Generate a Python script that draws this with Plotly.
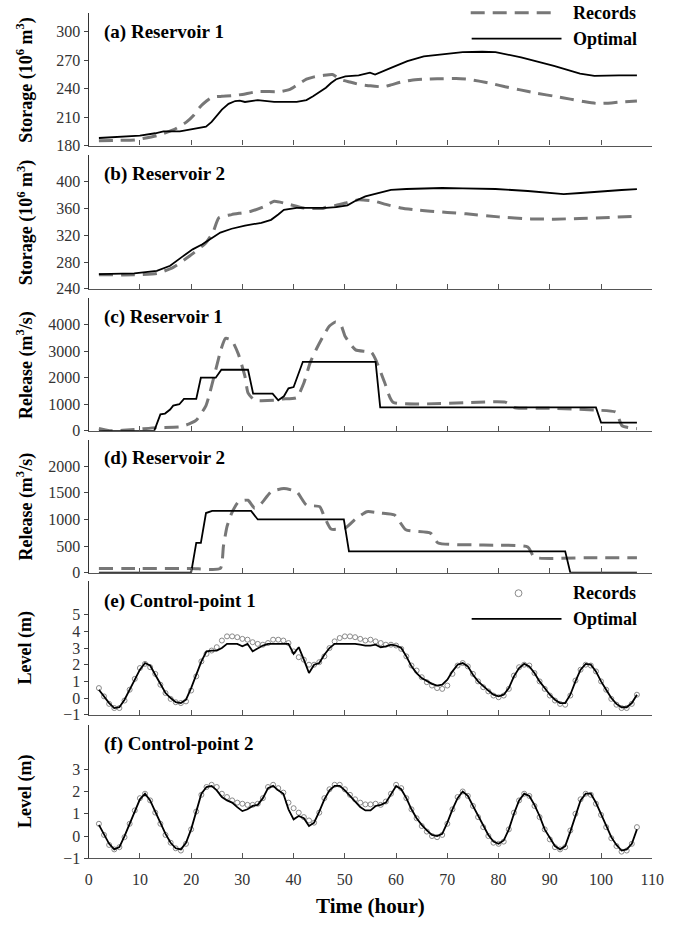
import plotly.graph_objects as go

W, H = 677, 932

# ---------------- data ----------------
hours = list(range(2, 108))

# (a) Reservoir 1 storage (10^6 m3)
a_opt_t = [2, 6, 10, 13, 14.6, 17.8, 20, 21.6, 22.9, 24, 24.8, 26, 27.3, 28.6, 29.5, 30.5, 33, 36.2, 40.6, 42.5,
           43.8, 45, 46.3, 47.3, 48.3, 50.1, 52.7, 54.9, 55.9, 59, 62.2, 65.4, 69.2, 73, 76.8, 79.4, 84.4, 90.8,
           95.9, 98.7, 103.5, 107]
a_opt_v = [188, 189, 190.5, 193, 195, 195, 197, 199, 200, 205, 210, 218, 224, 227, 227.5, 226, 228, 226, 226, 228,
           232, 236, 241, 246, 250, 253, 254, 257, 255, 262, 269, 274, 276, 278.6, 279, 278.6, 273, 264,
           256, 253.5, 254, 254]
a_rec_t = [2, 6, 9, 13.3, 16.5, 19, 20.5, 21.6, 23, 24.1, 26, 27.9, 30, 33, 37.5, 39.4, 41, 42.5, 44, 45.7, 47.6,
           49, 51, 52.7, 55, 57.5, 59, 60.9, 63, 65.4, 68, 71.7, 74, 76.2, 79, 81.3, 84, 87.6, 91, 94, 96.5, 99,
           102, 104, 107]
a_rec_v = [185, 185.5, 186, 190.5, 196.5, 204.5, 212, 220, 227, 231, 232, 232.5, 234, 237, 237, 239.5, 245, 250,
           252.5, 254, 255, 250, 247, 244.7, 243, 242, 244, 247, 249, 250, 250.5, 250.7, 250, 248, 245, 242, 239,
           235, 232, 229, 226.5, 224.5, 225, 226, 227]

# (b) Reservoir 2 storage (10^6 m3)
b_opt_t = [2, 8.9, 13.3, 15.9, 18.1, 20.3, 22.2, 24.1, 25.7, 27.9, 30.5, 33.7, 35.6, 37, 38.1, 40.6, 44.4, 46.3,
           48.3, 50.5, 52, 54, 56.5, 59, 62, 65.4, 69, 73, 79.4, 85.7, 92.7, 96, 100.3, 104, 107]
b_opt_v = [262, 263, 267, 274.5, 287, 299, 306.5, 316, 324, 329.7, 334.5, 338.5, 343, 351, 358, 360.7, 360, 360.7,
           362, 364.7, 371, 378, 383, 387.7, 389, 390, 390.5, 390, 389, 386, 381.3, 383, 386, 387.5, 388.7]
b_rec_t = [2, 8.9, 13.3, 16.5, 19.7, 22.9, 24.3, 25.4, 27.9, 31.7, 34.3, 36.2, 38.7, 41.9, 45.7, 46.3, 48, 50.1,
           52.7, 55.9, 58, 60.9, 63.5, 66.7, 70, 73.7, 80, 86.3, 90.8, 95.8, 101.6, 107]
b_rec_v = [261, 261, 263, 272, 289, 309, 325, 346, 350.8, 355.8, 363, 370.6, 367, 360.7, 360, 361.7, 364, 368,
           373, 370.6, 366, 360.7, 358, 355.8, 354, 352, 347.4, 344.4, 344, 345, 346.5, 348.4]

# (c) Reservoir 1 release (m3/s)
c_opt_t = [2, 12.8, 14.0, 14.9, 15.9, 16.5, 17.7, 18.6, 21.0, 21.9, 24.8, 25.9, 31.1, 32.1, 35.9, 37.0, 38.1,
           39.0, 40.0, 41.0, 41.8, 56.0, 56.9, 99.0, 100.0, 107]
c_opt_v = [0, 0, 620, 650, 800, 950, 1000, 1200, 1200, 2000, 2000, 2300, 2300, 1400, 1400, 1150, 1300,
           1600, 1650, 2200, 2600, 2600, 880, 880, 310, 310]
c_rec_t = [2, 4.4, 8.9, 13.3, 17.8, 19.5, 21, 22.9, 24.8, 25.8, 26.7, 27.9, 29.2, 30.5, 31.1, 32.4, 36.2, 37.8,
           40.6, 42, 43.2, 44.5, 45.7, 47, 48.2, 49.2, 50.1, 52.1, 55.2, 56.2, 57.8, 59.4, 81.3, 83.2, 90, 99,
           102.9, 104.1, 107]
c_rec_v = [90, 0, 50, 120, 150, 250, 400, 950, 2300, 3050, 3480, 3420, 2900, 2050, 1430, 1150, 1150, 1200,
           1250, 1800, 2550, 3100, 3540, 3950, 4100, 4000, 3540, 3050, 2950, 2600, 1800, 1080, 1080, 870, 850, 780,
           700, 190, 80]

# (d) Reservoir 2 release (m3/s)
d_opt_t = [2, 20, 21, 21.9, 22.9, 24.1, 31.7, 33, 49.8, 50.8, 93, 94, 107]
d_opt_v = [0, 0, 560, 560, 1120, 1160, 1160, 1000, 1000, 400, 400, 0, 0]
d_rec_t = [2, 10, 20, 25.7, 26.3, 27, 27.9, 29.2, 31.1, 32.4, 33.7, 35.6, 38.1, 40.6, 42.5, 45.1, 46, 47.3, 50.1,
           52, 54.3, 57, 59.7, 61.9, 66.7, 68.2, 77, 85.7, 87, 97, 107]
d_rec_v = [80, 80, 80, 80, 495, 866, 1115, 1330, 1360, 1210, 1300, 1520, 1580, 1520, 1270, 1240, 1050, 820, 840,
           1000, 1145, 1120, 1084, 805, 744, 558, 520, 483, 290, 280, 280]

# (e) Control-point 1 level (m), hourly 2..107
e_opt = [0.5, 0.1, -0.3, -0.6, -0.55, -0.1, 0.5, 1.1, 1.7, 2.1, 1.95, 1.4, 0.8, 0.3, 0.0, -0.25, -0.3, -0.1,
         0.6, 1.4, 2.2, 2.8, 2.85, 2.85, 3.0, 3.25, 3.25, 3.25, 3.1, 3.25, 2.8, 3.0, 3.15, 3.25, 3.25, 3.25,
         3.25, 3.25, 2.65, 3.05, 2.3, 1.5, 2.0, 2.1, 2.6, 3.0, 3.25, 3.25, 3.25, 3.25, 3.25, 3.2, 3.15, 3.15,
         3.2, 3.05, 3.1, 3.2, 3.15, 3.0, 2.5, 1.9, 1.5, 1.2, 1.0, 0.85, 0.75, 0.8, 1.1, 1.6, 2.0, 2.1, 1.9,
         1.4, 1.0, 0.7, 0.45, 0.2, 0.1, 0.2, 0.6, 1.3, 1.8, 2.05, 1.9, 1.5, 1.0, 0.6, 0.2, -0.1, -0.3, -0.3,
         0.2, 1.0, 1.7, 2.05, 2.0, 1.6, 1.0, 0.5, 0.0, -0.35, -0.55, -0.55, -0.3, 0.2]
e_rec = [0.6, 0.1, -0.35, -0.6, -0.6, -0.15, 0.5, 1.15, 1.8, 2.05, 1.85, 1.45, 0.8, 0.3, -0.05, -0.25, -0.3,
         -0.2, 0.45, 1.3, 2.2, 2.65, 2.85, 3.05, 3.45, 3.7, 3.7, 3.65, 3.55, 3.5, 3.35, 3.25, 3.2, 3.3, 3.5,
         3.5, 3.45, 3.3, 2.8, 2.45, 2.3, 2.0, 2.0, 2.15, 2.5, 3.0, 3.4, 3.6, 3.7, 3.7, 3.65, 3.55, 3.45, 3.5,
         3.4, 3.3, 3.2, 3.2, 3.15, 2.95, 2.5, 1.95, 1.65, 1.25, 0.95, 0.75, 0.6, 0.55, 0.75, 1.45, 1.95, 2.1,
         1.9, 1.45, 1.0, 0.65, 0.4, 0.15, 0.05, 0.15, 0.55, 1.35, 1.85, 2.0, 1.95, 1.5, 1.0, 0.55, 0.15,
         -0.15, -0.35, -0.4, 0.15, 1.05, 1.7, 2.0, 1.95, 1.6, 1.0, 0.5, -0.05, -0.4, -0.6, -0.6, -0.35, 0.2]

# (f) Control-point 2 level (m), hourly 2..107
f_opt = [0.5, 0.05, -0.35, -0.6, -0.5, 0.0, 0.55, 1.1, 1.65, 1.9, 1.6, 1.1, 0.6, 0.1, -0.3, -0.55, -0.6, -0.3,
         0.3, 1.1, 1.9, 2.2, 2.25, 2.05, 1.75, 1.6, 1.5, 1.3, 1.12, 1.2, 1.35, 1.4, 1.7, 2.15, 2.25, 2.05,
         1.9, 1.2, 0.75, 0.9, 0.8, 0.45, 0.6, 1.1, 1.65, 2.05, 2.25, 2.25, 2.05, 1.8, 1.55, 1.3, 1.15, 1.15,
         1.35, 1.4, 1.5, 1.85, 2.25, 2.1, 1.7, 1.2, 0.8, 0.5, 0.25, 0.05, 0.0, 0.1, 0.6, 1.2, 1.7, 2.0, 1.8,
         1.35, 0.9, 0.45, 0.05, -0.25, -0.35, -0.2, 0.3, 1.0, 1.6, 1.9, 1.8, 1.4, 0.9, 0.3, -0.1, -0.45,
         -0.6, -0.45, 0.2, 0.95, 1.6, 1.9, 1.9, 1.5, 1.0, 0.45, -0.05, -0.4, -0.65, -0.6, -0.35, 0.3]
f_rec = [0.55, 0.05, -0.4, -0.6, -0.5, -0.05, 0.55, 1.15, 1.7, 1.9, 1.6, 1.05, 0.55, 0.05, -0.3, -0.55, -0.65,
         -0.35, 0.3, 1.1, 1.85, 2.2, 2.3, 2.2, 1.9, 1.75, 1.6, 1.5, 1.45, 1.4, 1.4, 1.45, 1.7, 2.2, 2.3, 2.15,
         1.95, 1.5, 1.25, 1.05, 0.85, 0.7, 0.6, 1.05, 1.7, 2.1, 2.3, 2.3, 2.1, 1.85, 1.65, 1.5, 1.42, 1.42,
         1.45, 1.4, 1.55, 1.9, 2.3, 2.15, 1.7, 1.2, 0.8, 0.45, 0.2, 0.0, -0.05, 0.05, 0.55, 1.2, 1.75, 2.0,
         1.8, 1.35, 0.85, 0.4, 0.0, -0.3, -0.35, -0.25, 0.3, 1.05, 1.6, 1.9, 1.8, 1.35, 0.85, 0.3, -0.15,
         -0.5, -0.6, -0.5, 0.25, 1.0, 1.65, 1.9, 1.85, 1.45, 0.95, 0.4, -0.1, -0.45, -0.7, -0.65, -0.35, 0.4]

x_ticks = list(range(0, 111, 10))
panel_titles = ["(a) Reservoir 1", "(b) Reservoir 2", "(c) Reservoir 1", "(d) Reservoir 2",
                "(e) Control-point 1", "(f) Control-point 2"]
y_titles = ["Storage (10<sup>6</sup> m<sup>3</sup>)", "Storage (10<sup>6</sup> m<sup>3</sup>)",
            "Release (m<sup>3</sup>/s)", "Release (m<sup>3</sup>/s)", "Level (m)", "Level (m)"]
y_ranges = [[180, 320], [240, 440], [0, 5000], [0, 2500], [-1, 7], [-1, 5]]
y_ticks = [[180, 210, 240, 270, 300], [240, 280, 320, 360, 400], [0, 1000, 2000, 3000, 4000],
           [0, 500, 1000, 1500, 2000], [-1, 0, 1, 2, 3, 4, 5], [-1, 0, 1, 2, 3]]

# ---------------- layout geometry (pixels) ----------------
X0, X1 = 86.7, 664.0
panels_px = [(13, 147), (156.3, 291.7), (301, 435), (443.8, 578.3), (587, 721.7), (731.7, 866.7)]

def px(x):
    return x / W

def py(y):
    return 1 - y / H

FONT = "Liberation Serif, Times New Roman, serif"
REC_COLOR = "#777777"
DASH = "14px,8px"

fig = go.Figure()

series = [
    (a_rec_t, a_rec_v, a_opt_t, a_opt_v),
    (b_rec_t, b_rec_v, b_opt_t, b_opt_v),
    (c_rec_t, c_rec_v, c_opt_t, c_opt_v),
    (d_rec_t, d_rec_v, d_opt_t, d_opt_v),
]
for i, (rt, rv, ot, ov) in enumerate(series):
    ax = "" if i == 0 else str(i + 1)
    fig.add_trace(go.Scatter(x=rt, y=rv, mode="lines", name="Records", showlegend=False,
                             line=dict(color=REC_COLOR, width=3, dash=DASH, shape="spline", smoothing=0.5),
                             xaxis="x" + ax, yaxis="y" + ax))
    fig.add_trace(go.Scatter(x=ot, y=ov, mode="lines", name="Optimal", showlegend=False,
                             line=dict(color="black", width=1.8),
                             xaxis="x" + ax, yaxis="y" + ax))

for i, (rec, opt) in enumerate([(e_rec, e_opt), (f_rec, f_opt)]):
    ax = str(i + 5)
    fig.add_trace(go.Scatter(x=hours, y=rec, mode="markers", name="Records", showlegend=False,
                             marker=dict(symbol="circle-open", size=5, color="#8a8a8a", line=dict(width=1)),
                             xaxis="x" + ax, yaxis="y" + ax))
    fig.add_trace(go.Scatter(x=hours, y=opt, mode="lines", name="Optimal", showlegend=False,
                             line=dict(color="black", width=1.8),
                             xaxis="x" + ax, yaxis="y" + ax))

layout = dict(
    width=W, height=H, margin=dict(l=0, r=0, t=0, b=0),
    paper_bgcolor="white", plot_bgcolor="white",
    font=dict(family=FONT, color="#222"),
    showlegend=False,
)
annotations = []
shapes = []
for i in range(6):
    k = "" if i == 0 else str(i + 1)
    top, bot = panels_px[i]
    layout["xaxis" + k] = dict(
        domain=[px(X0), px(X1)], range=[0, 110], anchor="y" + k,
        tickvals=x_ticks, ticks="inside", ticklen=5, tickcolor="#555", tickwidth=1,
        showline=True, linecolor="#555", linewidth=1.3, showgrid=False, zeroline=False,
        showticklabels=(i == 5), tickfont=dict(family=FONT, size=16, color="#333"),
        ticklabelstandoff=6,
    )
    layout["yaxis" + k] = dict(
        domain=[py(bot), py(top)], range=y_ranges[i], anchor="x" + k,
        tickvals=y_ticks[i], ticks="outside", ticklen=4, tickcolor="#444",
        showline=True, linecolor="#333", linewidth=1.3, showgrid=False, zeroline=False,
        tickfont=dict(family=FONT, size=16, color="#333"),
    )
    annotations.append(dict(x=px(100), y=py(top + 19 if i < 4 else top + 20), xref="paper", yref="paper",
                            text="<b>%s</b>" % panel_titles[i], showarrow=False, xanchor="left",
                            yanchor="middle", font=dict(family=FONT, size=19, color="black")))
    annotations.append(dict(x=px(22), y=py((top + bot) / 2), xref="paper", yref="paper",
                            text="<b>%s</b>" % y_titles[i], showarrow=False, textangle=-90,
                            xanchor="center", yanchor="middle", font=dict(family=FONT, size=18, color="black")))

annotations.append(dict(x=px((X0 + X1) / 2), y=py(915), xref="paper", yref="paper",
                        text="<b>Time (hour)</b>", showarrow=False, xanchor="center", yanchor="middle",
                        font=dict(family=FONT, size=21, color="black")))

# legends (top panel and control-point panel)
for (yr, yo, circle) in [(13, 39, False), (599, 625, True)]:
    if circle:
        shapes.append(dict(type="circle", xref="paper", yref="paper",
                           x0=px(523.5), x1=px(530.5), y0=py(yr + 3.5), y1=py(yr - 3.5),
                           line=dict(color="#8a8a8a", width=1)))
    else:
        shapes.append(dict(type="line", xref="paper", yref="paper", x0=px(478), x1=px(568),
                           y0=py(yr), y1=py(yr), line=dict(color=REC_COLOR, width=3, dash=DASH)))
    shapes.append(dict(type="line", xref="paper", yref="paper", x0=px(479), x1=px(571),
                       y0=py(yo), y1=py(yo), line=dict(color="black", width=1.8)))
    annotations.append(dict(x=px(581), y=py(yr), xref="paper", yref="paper", text="<b>Records</b>",
                            showarrow=False, xanchor="left", yanchor="middle",
                            font=dict(family=FONT, size=18, color="black")))
    annotations.append(dict(x=px(581), y=py(yo), xref="paper", yref="paper", text="<b>Optimal</b>",
                            showarrow=False, xanchor="left", yanchor="middle",
                            font=dict(family=FONT, size=18, color="black")))

layout["annotations"] = annotations
layout["shapes"] = shapes
fig.update_layout(**layout)

fig.write_html("out.html")
